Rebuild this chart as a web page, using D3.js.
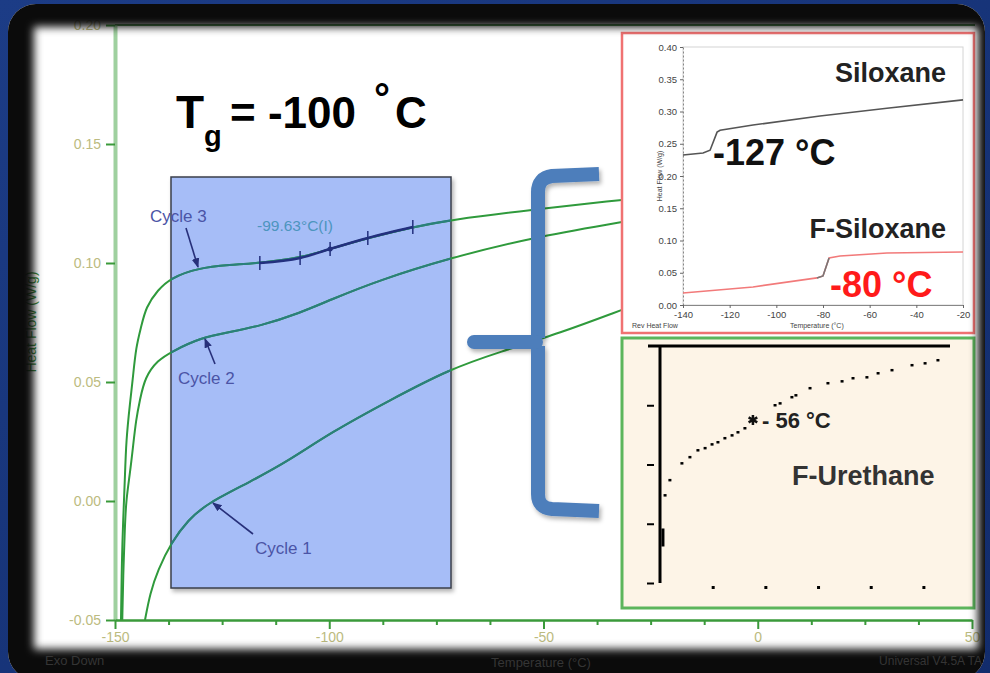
<!DOCTYPE html>
<html>
<head>
<meta charset="utf-8">
<script src="https://cdn.jsdelivr.net/npm/d3@7"></script>
<style>
  body { margin: 0; background: #173578; }
  svg { display: block; }
  text { font-family: "Liberation Sans", Arial, sans-serif; }
</style>
</head>
<body>
<div id="chart"></div>
<script>
// main DSC plot: heat flow (W/g) vs temperature (°C), three cycles
var cycle3T  = [-148.6, -148.4, -148.1, -147.7, -147.4, -146.5, -145.8, -145.1, -143.9, -142.8, -140.0, -137.0, -130.6, -123.2, -116.2, -106.8, -99.8, -91.0, -80.5, -71.8, -53.2, -31.7];
var cycle3HF = [-0.050, -0.0248, -0.0080, 0.0088, 0.0256, 0.0412, 0.0521, 0.0647, 0.0731, 0.0815, 0.0887, 0.0937, 0.0979, 0.0992, 0.1000, 0.1021, 0.1059, 0.1105, 0.1151, 0.1181, 0.1223, 0.1265];
var cycle2T  = [-148.3, -148.1, -147.7, -147.4, -146.5, -145.8, -145.1, -144.2, -143.0, -140.0, -136.9, -130.2, -123.2, -116.2, -106.8, -99.8, -88.2, -71.8, -53.2, -31.7];
var cycle2HF = [-0.050, -0.0319, -0.0109, 0.0004, 0.0118, 0.0227, 0.0340, 0.0424, 0.0521, 0.0592, 0.0626, 0.0685, 0.0710, 0.0735, 0.0790, 0.0845, 0.0929, 0.1021, 0.1105, 0.1172];
var cycle1T  = [-143.0, -141.8, -140.0, -136.9, -133.0, -128.3, -118.5, -109.2, -99.8, -85.8, -71.8, -60.2, -46.1, -31.7];
var cycle1HF = [-0.050, -0.0387, -0.0290, -0.0176, -0.0080, -0.0008, 0.0080, 0.0172, 0.0286, 0.0424, 0.0555, 0.0626, 0.0706, 0.0803];
// analysed step on cycle 3 (onset ... end), Tg mark at -99.63
var stepT = [-116.2, -106.8, -99.8, -91.0, -80.5];
var yTicks = [-0.05, 0.00, 0.05, 0.10, 0.15, 0.20];
var xTicks = [-150, -100, -50, 0, 50];
var xMinor = [-137.5, -125, -112.5, -87.5, -75, -62.5, -37.5, -25, -12.5, 12.5, 25, 37.5];

// inset: siloxane / F-siloxane
var silT   = [-140, -131.4, -128.4, -125.4, -124.1, -110, -81.3, -52.6, -20];
var silHF  = [0.2326, 0.2357, 0.240, 0.268, 0.271, 0.279, 0.293, 0.305, 0.318];
var fsilT  = [-140, -110, -82.6, -80, -77.4, -72.7, -52.6, -20];
var fsilHF = [0.0186, 0.028, 0.042, 0.045, 0.0729, 0.076, 0.0806, 0.0822];
var insetYTicks = [0, 0.05, 0.10, 0.15, 0.20, 0.25, 0.30, 0.35, 0.40];
var insetXTicks = [-140, -120, -100, -80, -60, -40, -20];

// inset: F-urethane (dotted trace, relative heat flow)
var urethT = [-97.6, -95.3, -89.6, -85.8, -82.0, -78.6, -75.3, -72.5, -69.2, -65.8, -63.0, -59.7, -45.4, -43.0, -37.4, -35.5, -28.8, -20.3, -13.6, -8.4, -1.8, 3.5, 10.1, 19.6, 25.8, 31.9];
var urethV = [0.371, 0.435, 0.506, 0.532, 0.561, 0.570, 0.586, 0.595, 0.612, 0.624, 0.637, 0.654, 0.751, 0.759, 0.785, 0.793, 0.823, 0.844, 0.852, 0.865, 0.869, 0.886, 0.899, 0.920, 0.928, 0.941];
var urethTg = [-55.9, 0.688];
var urethYTicks = [0, 0.25, 0.5, 0.75];

var W = 990, H = 673;
var svg = d3.select("#chart").append("svg").attr("width", W).attr("height", H);
var defs = svg.append("defs");

var g1 = defs.append("linearGradient").attr("id", "navy").attr("x1", 0).attr("y1", 0).attr("x2", 1).attr("y2", 1);
g1.append("stop").attr("offset", "0%").attr("stop-color", "#1c3c86");
g1.append("stop").attr("offset", "100%").attr("stop-color", "#122c6c");

defs.append("filter").attr("id", "blur").attr("x", "-10%").attr("y", "-10%").attr("width", "120%").attr("height", "120%")
  .append("feGaussianBlur").attr("stdDeviation", 4.5);
var sh = defs.append("filter").attr("id", "shadow").attr("x", "-20%").attr("y", "-20%").attr("width", "140%").attr("height", "140%");
sh.append("feDropShadow").attr("dx", 2).attr("dy", 3).attr("stdDeviation", 2).attr("flood-color", "#000").attr("flood-opacity", 0.3);

var mask = defs.append("mask").attr("id", "frameMask");
mask.append("rect").attr("width", W).attr("height", H).attr("fill", "#fff");
mask.append("rect").attr("x", 34).attr("y", 27).attr("width", 944).attr("height", 622)
  .attr("fill", "#000").attr("filter", "url(#blur)");

defs.append("clipPath").attr("id", "boxClip").append("rect")
  .attr("x", 171).attr("y", 177).attr("width", 280).attr("height", 411);

svg.append("rect").attr("width", W).attr("height", H).attr("fill", "url(#navy)");
svg.append("rect").attr("x", 8).attr("y", 4).attr("width", 977).attr("height", 676).attr("rx", 28).attr("fill", "#fff");

var x = d3.scaleLinear().domain([-150, 50]).range([115, 972]);
var y = d3.scaleLinear().domain([-0.05, 0.20]).range([620, 25]);

// plot frame top
svg.append("line").attr("x1", 115).attr("x2", 975).attr("y1", y(0.20)).attr("y2", y(0.20))
  .attr("stroke", "#4a8a4a").attr("stroke-width", 2);

// blue highlight box
svg.append("rect").attr("x", 171).attr("y", 177).attr("width", 280).attr("height", 411)
  .attr("fill", "#a6bdf7").attr("stroke", "#3a3f4a").attr("stroke-width", 1.5).attr("filter", "url(#shadow)");

var line = d3.line().x(d => x(d[0])).y(d => y(d[1])).curve(d3.curveBasis);
var cycles = [
  d3.zip(cycle1T, cycle1HF),
  d3.zip(cycle2T, cycle2HF),
  d3.zip(cycle3T, cycle3HF)
];
svg.append("g").selectAll("path").data(cycles).join("path")
  .attr("d", line).attr("fill", "none").attr("stroke", "#2f9a3c").attr("stroke-width", 2);
svg.append("g").attr("clip-path", "url(#boxClip)").selectAll("path").data(cycles).join("path")
  .attr("d", line).attr("fill", "none").attr("stroke", "#2a7f7c").attr("stroke-width", 2);

// analysed step segment with ticks
var stepPts = stepT.map(t => {
  var i = cycle3T.indexOf(t);
  return [t, cycle3HF[i]];
});
svg.append("path").attr("d", d3.line().x(d => x(d[0])).y(d => y(d[1])).curve(d3.curveMonotoneX)(stepPts))
  .attr("fill", "none").attr("stroke", "#23307e").attr("stroke-width", 2.5);
svg.append("g").selectAll("line").data(stepPts).join("line")
  .attr("x1", d => x(d[0])).attr("x2", d => x(d[0]))
  .attr("y1", d => y(d[1]) - 7).attr("y2", d => y(d[1]) + 7)
  .attr("stroke", "#23307e").attr("stroke-width", 1.5);
svg.append("circle").attr("cx", x(stepPts[2][0])).attr("cy", y(stepPts[2][1])).attr("r", 2.5).attr("fill", "#23307e");

svg.append("text").attr("x", 257).attr("y", 231).attr("font-size", 15.5).attr("fill", "#4d95be")
  .text("-99.63°C(I)");

// cycle labels and arrows
defs.append("marker").attr("id", "arr").attr("viewBox", "0 0 10 10").attr("refX", 9).attr("refY", 5)
  .attr("markerWidth", 6).attr("markerHeight", 6).attr("orient", "auto")
  .append("path").attr("d", "M0,1 L10,5 L0,9 Z").attr("fill", "#27307a");
var notes = [
  {label: "Cycle 3", tx: 150, ty: 222, x1: 186, y1: 228, x2: 198, y2: 267},
  {label: "Cycle 2", tx: 178, ty: 384, x1: 215, y1: 364, x2: 205, y2: 339},
  {label: "Cycle 1", tx: 255, ty: 554, x1: 253, y1: 534, x2: 213, y2: 503}
];
svg.append("g").selectAll("line").data(notes).join("line")
  .attr("x1", d => d.x1).attr("y1", d => d.y1).attr("x2", d => d.x2).attr("y2", d => d.y2)
  .attr("stroke", "#27307a").attr("stroke-width", 1.6).attr("marker-end", "url(#arr)");
svg.append("g").selectAll("text").data(notes).join("text")
  .attr("x", d => d.tx).attr("y", d => d.ty).attr("font-size", 17).attr("fill", "#4b54a6")
  .text(d => d.label);

// title Tg = -100 °C
var title = svg.append("g").attr("font-weight", "bold").attr("fill", "#000");
title.append("text").attr("x", 176).attr("y", 128).attr("font-size", 46).text("T");
title.append("text").attr("x", 204).attr("y", 146).attr("font-size", 29).text("g");
title.append("text").attr("x", 230).attr("y", 128).attr("font-size", 44).text("= -100");
title.append("text").attr("x", 374).attr("y", 112).attr("font-size", 40).text("°");
title.append("text").attr("x", 395).attr("y", 128).attr("font-size", 44).text("C");

// big brace
var brace = svg.append("g").attr("fill", "none").attr("stroke", "#4d7ebb").attr("stroke-width", 14)
  .attr("filter", "url(#shadow)");
brace.append("path").attr("d", "M599,174 L552,176 Q538,178 538,192 L538,338");
brace.append("path").attr("d", "M538,346 L538,494 Q538,508 552,509 L599,511");
brace.append("path").attr("d", "M474,342 L536,342").attr("stroke-linecap", "round");

// axes
var yAxis = d3.axisLeft(y).tickValues(yTicks).tickSize(9).tickSizeOuter(0).tickPadding(5)
  .tickFormat(d => d.toFixed(2));
var gy = svg.append("g").attr("transform", "translate(115,0)").call(yAxis);
gy.select(".domain").attr("stroke", "#9fd09f").attr("stroke-width", 4);
gy.selectAll(".tick line").attr("stroke", "#3a9a3a").attr("stroke-width", 2);
gy.selectAll(".tick text").attr("font-size", 14).attr("fill", "#bcbb80").attr("font-family", "Liberation Sans, Arial");

var xAxis = d3.axisBottom(x).tickValues(xTicks).tickSize(9).tickSizeOuter(0).tickPadding(3)
  .tickFormat(d => String(d));
var gx = svg.append("g").attr("transform", "translate(0,620)").call(xAxis);
gx.select(".domain").attr("stroke", "#3a9a3a").attr("stroke-width", 2.5);
gx.selectAll(".tick line").attr("stroke", "#3a9a3a").attr("stroke-width", 2);
gx.selectAll(".tick text").attr("font-size", 14).attr("fill", "#bcbb80").attr("font-family", "Liberation Sans, Arial");
var gxm = svg.append("g").attr("transform", "translate(0,620)")
  .call(d3.axisBottom(x).tickValues(xMinor).tickSize(5).tickFormat(""));
gxm.select(".domain").remove();
gxm.selectAll(".tick line").attr("stroke", "#3a9a3a").attr("stroke-width", 2);

svg.append("text").attr("transform", "translate(36,322) rotate(-90)").attr("text-anchor", "middle")
  .attr("font-size", 14).attr("fill", "#3b8a3b").text("Heat Flow (W/g)");

// ---- inset 1: siloxane vs F-siloxane
var in1 = svg.append("g");
in1.append("rect").attr("x", 622).attr("y", 33).attr("width", 352).attr("height", 300)
  .attr("fill", "#fff").attr("stroke", "#f07272").attr("stroke-width", 2.5);
var xs = d3.scaleLinear().domain([-140, -20]).range([683, 963]);
var ys = d3.scaleLinear().domain([0, 0.40]).range([305, 47]);
in1.append("rect").attr("x", 683).attr("y", 47).attr("width", 280).attr("height", 258)
  .attr("fill", "none").attr("stroke", "#d4d4d4").attr("stroke-width", 1);
var gys = in1.append("g").attr("transform", "translate(683,0)")
  .call(d3.axisLeft(ys).tickValues(insetYTicks).tickSize(3).tickSizeOuter(0).tickFormat(d => d.toFixed(2)));
gys.select(".domain").attr("stroke", "#888").attr("stroke-dasharray", "2,2");
gys.selectAll(".tick line").attr("stroke", "#666");
gys.selectAll(".tick text").attr("font-size", 9.5).attr("fill", "#444").attr("font-family", "Liberation Sans, Arial");
var gxs = in1.append("g").attr("transform", "translate(0,305)")
  .call(d3.axisBottom(xs).tickValues(insetXTicks).tickSize(3).tickSizeOuter(0).tickFormat(d => String(d)));
gxs.select(".domain").attr("stroke", "#888");
gxs.selectAll(".tick line").attr("stroke", "#666");
gxs.selectAll(".tick text").attr("font-size", 9.5).attr("fill", "#444").attr("font-family", "Liberation Sans, Arial");
in1.append("text").attr("x", 632).attr("y", 328).attr("font-size", 7).attr("fill", "#444").text("Rev Heat Flow");
in1.append("text").attr("x", 790).attr("y", 328).attr("font-size", 7).attr("fill", "#444").text("Temperature (°C)");
in1.append("text").attr("transform", "translate(662,176) rotate(-90)").attr("text-anchor", "middle")
  .attr("font-size", 7).attr("fill", "#444").text("Heat Flow (W/g)");

var ls = d3.line().x(d => xs(d[0])).y(d => ys(d[1]));
in1.append("path").attr("d", ls(d3.zip(silT, silHF))).attr("fill", "none").attr("stroke", "#555").attr("stroke-width", 1.6);
in1.append("path").attr("d", ls(d3.zip(fsilT, fsilHF))).attr("fill", "none").attr("stroke", "#f27a7a").attr("stroke-width", 1.6);
in1.append("path").attr("d", ls(d3.zip(fsilT.slice(2, 5), fsilHF.slice(2, 5)))).attr("fill", "none").attr("stroke", "#777").attr("stroke-width", 1.6);

in1.append("text").attr("x", 946).attr("y", 82).attr("text-anchor", "end").attr("font-size", 27)
  .attr("font-weight", "bold").attr("fill", "#222").text("Siloxane");
in1.append("text").attr("x", 713).attr("y", 165).attr("font-size", 36)
  .attr("font-weight", "bold").attr("fill", "#111").text("-127 °C");
in1.append("text").attr("x", 946).attr("y", 238).attr("text-anchor", "end").attr("font-size", 27)
  .attr("font-weight", "bold").attr("fill", "#222").text("F-Siloxane");
in1.append("text").attr("x", 830).attr("y", 297).attr("font-size", 36)
  .attr("font-weight", "bold").attr("fill", "#ff1a1a").text("-80 °C");

// ---- inset 2: F-urethane
var in2 = svg.append("g");
in2.append("rect").attr("x", 622).attr("y", 338).attr("width", 352).attr("height", 270)
  .attr("fill", "#fdf4e7").attr("stroke", "#5cb55c").attr("stroke-width", 3);
var xu = d3.scaleLinear().domain([-100, 40]).range([660, 955]);
var yu = d3.scaleLinear().domain([0, 1]).range([583, 346]);
in2.append("line").attr("x1", 648).attr("x2", 950).attr("y1", yu(1)).attr("y2", yu(1))
  .attr("stroke", "#000").attr("stroke-width", 3);
in2.append("line").attr("x1", xu(-100)).attr("x2", xu(-100)).attr("y1", yu(1)).attr("y2", yu(0))
  .attr("stroke", "#000").attr("stroke-width", 3);
var gyu = in2.append("g").attr("transform", "translate(654,0)")
  .call(d3.axisLeft(yu).tickValues(urethYTicks).tickSize(7).tickFormat(""));
gyu.select(".domain").remove();
gyu.selectAll(".tick line").attr("stroke", "#000").attr("stroke-width", 2);
var gxu = in2.append("g").attr("transform", "translate(0,586)")
  .call(d3.axisBottom(xu).tickValues([-75, -50, -25, 0, 25]).tickSize(3).tickFormat(""));
gxu.select(".domain").remove();
gxu.selectAll(".tick line").attr("stroke", "#000").attr("stroke-width", 3);

in2.append("g").selectAll("rect").data(d3.zip(urethT, urethV)).join("rect")
  .attr("x", d => xu(d[0]) - 1.5).attr("y", d => yu(d[1]) - 1).attr("width", 3).attr("height", 2.5)
  .attr("fill", "#000");
in2.append("rect").attr("x", xu(-98.6) - 1.5).attr("y", yu(0.23)).attr("width", 3).attr("height", 18).attr("fill", "#000");
in2.append("path").attr("transform", "translate(" + xu(urethTg[0]) + "," + yu(urethTg[1]) + ")")
  .attr("d", d3.symbol(d3.symbolAsterisk, 70)).attr("stroke", "#111").attr("stroke-width", 2.5).attr("fill", "none");
in2.append("text").attr("x", 762).attr("y", 428).attr("font-size", 22)
  .attr("font-weight", "bold").attr("fill", "#222").text("- 56 °C");
in2.append("text").attr("x", 792).attr("y", 485).attr("font-size", 27)
  .attr("font-weight", "bold").attr("fill", "#333").text("F-Urethane");

// dark vignette frame over everything
svg.append("rect").attr("x", 8).attr("y", 4).attr("width", 977).attr("height", 676).attr("rx", 28)
  .attr("fill", "#0b0b0b").attr("mask", "url(#frameMask)");

svg.append("text").attr("x", 45).attr("y", 665).attr("font-size", 13).attr("fill", "#353535").text("Exo Down");
svg.append("text").attr("x", 541).attr("y", 667).attr("text-anchor", "middle").attr("font-size", 13)
  .attr("fill", "#353535").text("Temperature (°C)");
svg.append("text").attr("x", 982).attr("y", 665).attr("text-anchor", "end").attr("font-size", 12)
  .attr("fill", "#353535").text("Universal V4.5A TA");
</script>
</body>
</html>
